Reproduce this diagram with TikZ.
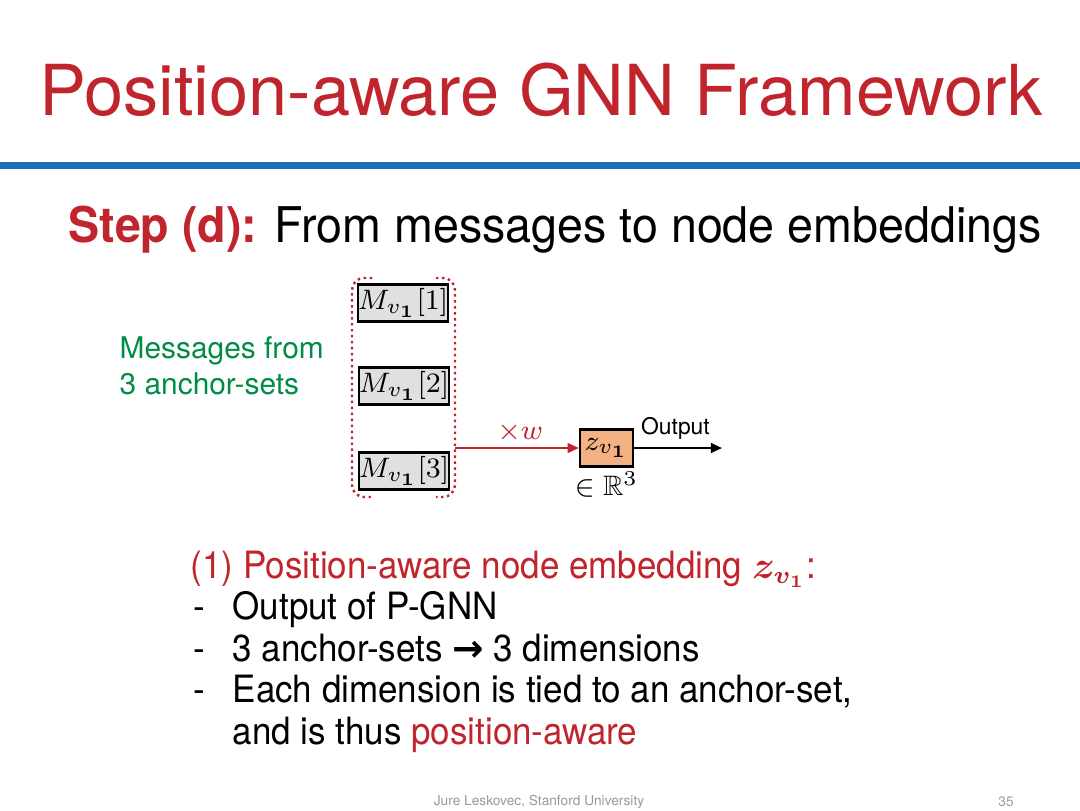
\documentclass[tikz,border=0pt]{standalone}
\usepackage{fontspec}
\usepackage{amssymb}
\usepackage{bm}
\setmainfont{TeX Gyre Heros}
\newfontfamily\narrowfont[FakeStretch=0.93]{TeX Gyre Heros}
\newfontfamily\stepfont[FakeStretch=0.947]{TeX Gyre Heros}
\newfontfamily\symfont{DejaVu Sans}
\usetikzlibrary{arrows.meta,positioning}
\definecolor{slidered}{RGB}{192,36,44}
\definecolor{slideblue}{RGB}{30,110,190}
\definecolor{msggreen}{RGB}{0,140,70}
\definecolor{msggray}{RGB}{224,224,224}
\definecolor{zorange}{RGB}{244,177,131}
\begin{document}
\begin{tikzpicture}[>={Triangle[length=3.2pt,width=2.8pt]}]
\tikzstyle{msg} = [rectangle, draw=black, line width=0.7pt, fill=msggray, minimum width=0.9cm, minimum height=0.37cm, inner sep=0pt, font=\fontsize{8}{10}\selectfont]
\tikzstyle{emb} = [rectangle, draw=black, line width=0.7pt, fill=zorange, minimum width=0.53cm, minimum height=0.37cm, inner sep=0pt, font=\fontsize{8}{10}\selectfont]
\tikzstyle{bullet} = [anchor=base west, inner sep=0pt, font=\narrowfont\fontsize{10.7}{12}\selectfont]
\tikzstyle{bracket} = [draw=slidered, densely dotted, line width=0.7pt, rounded corners=0.12cm]

\useasboundingbox (0,0) rectangle (10.8,8.1);

% title and rule
\node (title) [anchor=base, inner sep=0pt, text=slidered, font=\fontsize{20}{24}\selectfont] at (5.41,6.95) {Position-aware GNN Framework};
\draw [slideblue, line width=0.07cm] (0,6.445) -- (10.8,6.445);
\node (step) [anchor=base west, inner sep=0pt, font=\stepfont\fontsize{14}{17}\selectfont] at (0.68,5.68) {\textcolor{slidered}{\bfseries Step (d):} From messages to node embeddings};

% messages
\node (msgs) [anchor=west, align=left, inner sep=0pt, text=msggreen, font=\fontsize{8.5}{10.3}\selectfont] at (1.19,4.44) {Messages from\\3 anchor-sets};
\node (m1) [msg] at (4.03,5.07) {$M_{v_{\bm{1}}}[1]$};
\node (m2) [msg] at (4.04,4.24) {$M_{v_{\bm{1}}}[2]$};
\node (m3) [msg] at (4.04,3.39) {$M_{v_{\bm{1}}}[3]$};
\draw [bracket] (3.72,5.32) -- (3.52,5.32) -- (3.52,3.13) -- (3.72,3.13);
\draw [bracket] (4.36,5.32) -- (4.55,5.32) -- (4.55,3.13) -- (4.36,3.13);
\coordinate (bracketR) at (4.55,3.62);

% embedding
\node (z) [emb] at (6.065,3.62) {$z_{v_{\bm{1}}}$};
\coordinate (outEnd) at (7.22,3.62);
\draw [->, slidered, line width=0.6pt] (bracketR) -- node [above=0.8pt, inner sep=0.5pt, xshift=1pt, font=\fontsize{8.5}{10}\selectfont] {$\times w$} (z);
\draw [->, line width=0.6pt] (z) -- node [above=1.5pt, inner sep=0.5pt, pos=0.47, font=\fontsize{6.5}{8}\selectfont] {Output} (outEnd);
\node (dim) [below=1pt of z, inner sep=0pt, font=\fontsize{8}{10}\selectfont] {$\in \mathbb{R}^3$};

% explanation
\node (head) [bullet, text=slidered] at (1.90,2.32) {(1) Position-aware node embedding $\bm{z_{v_1}}$:};
\node (d1) [bullet] at (1.93,1.91) {-};
\node (d2) [bullet] at (1.93,1.49) {-};
\node (d3) [bullet] at (1.93,1.08) {-};
\node (l1) [bullet] at (2.32,1.91) {Output of P-GNN};
\node (l2) [bullet] at (2.32,1.49) {3 anchor-sets {\symfont\bfseries →} 3 dimensions};
\node (l3) [bullet] at (2.32,1.08) {Each dimension is tied to an anchor-set,};
\node (l4) [bullet] at (2.32,0.66) {and is thus \textcolor{slidered}{position-aware}};

% footer
\node (foot) [text=gray!80, font=\fontsize{3.9}{4.5}\selectfont] at (5.39,0.08) {Jure Leskovec, Stanford University};
\node (page) [text=gray!80, font=\fontsize{3.9}{4.5}\selectfont] at (10.06,0.08) {35};
\end{tikzpicture}
\end{document}
